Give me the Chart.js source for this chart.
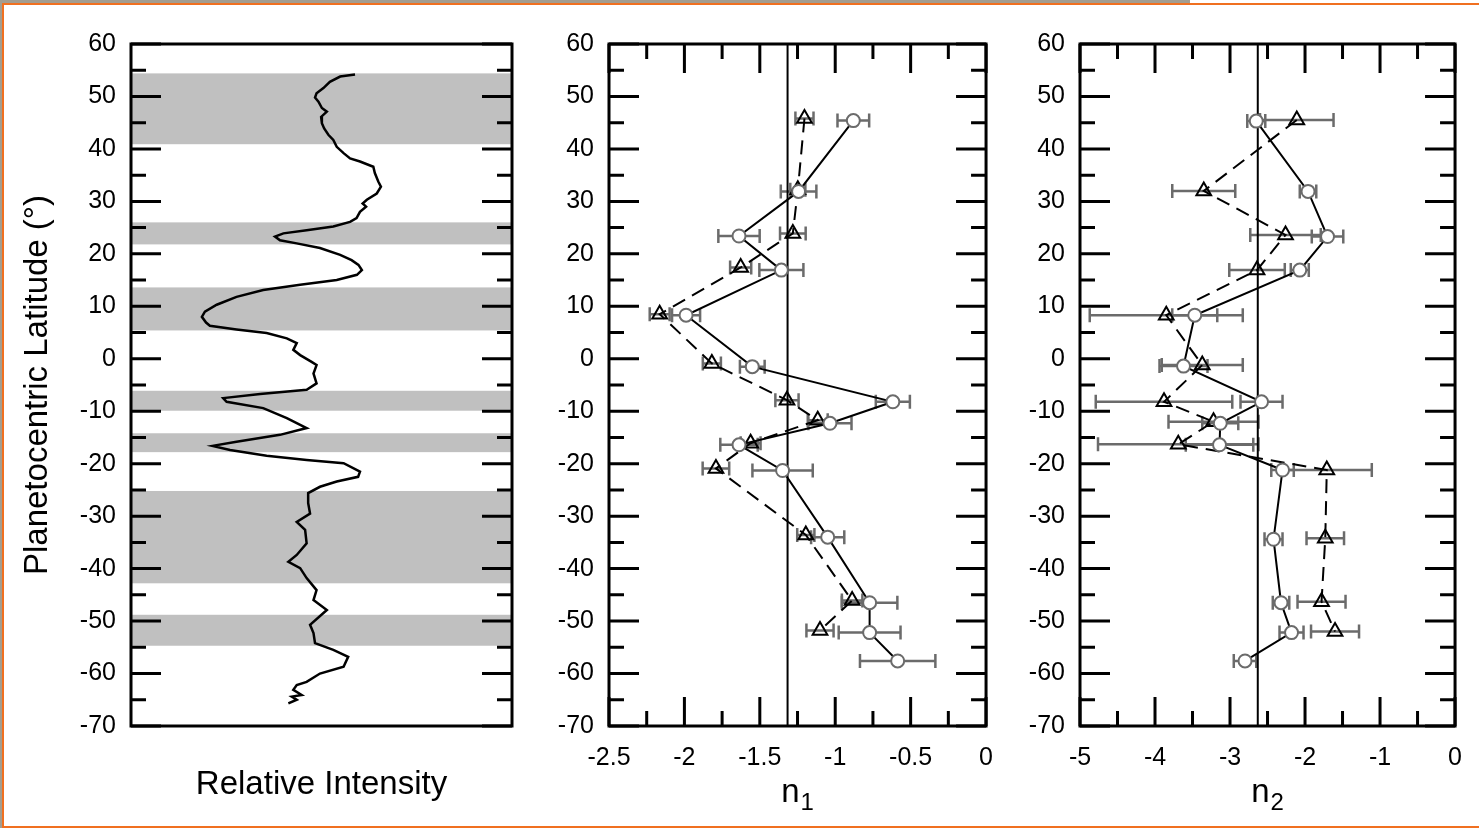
<!DOCTYPE html>
<html>
<head>
<meta charset="utf-8">
<script src="https://cdn.jsdelivr.net/npm/chart.js@4.4.1/dist/chart.umd.min.js"></script>
<style>
  html, body { margin: 0; padding: 0; background: #fff; }
  #page { position: relative; width: 1479px; height: 828px; overflow: hidden; background: #fff; }
  #topbar { position: absolute; left: 0; top: 0; width: 1190px; height: 3px; background: #a39d90; }
  #leftbar { position: absolute; left: 0; top: 0; width: 2px; height: 828px; background: #a39d90; }
  #frame { position: absolute; left: 2px; top: 3px; right: -10px; bottom: 0; border-left: 2px solid #f07020; border-top: 2px solid #f07020; border-bottom: 2px solid #f07020; }
  canvas { position: absolute; top: 0; }
</style>
</head>
<body>
<div id="page">
  <div id="topbar"></div>
  <div id="leftbar"></div>
  <div id="frame"></div>
  <canvas id="c1" width="530" height="828" style="left:0px"></canvas>
  <canvas id="c2" width="480" height="828" style="left:530px"></canvas>
  <canvas id="c3" width="469" height="828" style="left:1010px"></canvas>
</div>
<script>
const FONT = "'Liberation Sans', Arial, sans-serif";

// latitude axis, shared by the three panels
const latMin = -70;
const latMax = 60;

// panel 1: relative intensity profile (arbitrary units, 0-100)
const profileLat = [54.2, 53.8, 52.8, 51.6, 50.6, 49.8, 49.0, 47.8, 47.1, 46.1, 44.9, 43.9, 42.7, 41.7, 40.4,
  39.2, 38.2, 37.6, 36.6, 35.4, 33.8, 32.8, 31.5, 30.3, 29.6, 29.0, 28.0, 26.8, 26.1, 25.2, 24.5, 23.9, 23.3,
  22.6, 22.0, 21.1, 19.8, 18.8, 17.9, 16.9, 16.0, 15.0, 14.1, 13.1, 11.8, 10.3, 9.0, 8.0, 6.9, 6.3, 5.6, 4.9,
  3.9, 3.0, 1.7, 0.7, -0.6, -1.2, -2.8, -4.7, -5.9, -6.7, -7.5, -8.2, -9.4, -11.3, -13.2, -14.5, -15.8, -16.6,
  -17.4, -18.5, -19.3, -19.9, -21.5, -22.5, -23.4, -24.4, -25.6, -27.5, -29.5, -31.1, -32.6, -35.2, -37.4,
  -38.7, -39.9, -41.8, -44.1, -46.0, -47.9, -50.7, -52.3, -54.2, -55.5, -56.8, -58.7, -60.0, -61.6, -62.2,
  -63.1, -64.1, -64.4, -65.0, -65.7];
const profileIntensity = [58.8, 54.9, 52.2, 50.5, 48.7, 48.3, 49.2, 50.1, 51.4, 49.9, 50.1, 50.7, 51.8, 53.1, 54.0,
  55.8, 57.5, 60.1, 63.6, 64.0, 64.9, 65.6, 64.5, 61.9, 60.8, 61.7, 60.1, 59.2, 57.5, 53.1, 46.1, 40.0, 37.8,
  39.1, 43.5, 49.6, 54.9, 57.9, 59.7, 60.6, 59.3, 54.0, 44.4, 34.7, 27.7, 22.5, 19.4, 18.6, 19.7, 20.7, 27.7, 35.6,
  40.9, 43.5, 42.6, 44.4, 47.4, 48.7, 47.9, 48.7, 46.1, 33.9, 24.2, 25.1, 34.7, 40.9, 46.1, 39.1, 27.7, 21.4,
  26.0, 35.6, 46.1, 55.8, 60.1, 59.6, 54.0, 49.6, 46.5, 46.5, 47.0, 43.5, 45.7, 46.1, 43.5,
  41.3, 44.4, 46.1, 48.7, 47.9, 51.4, 47.0, 47.9, 48.3, 53.1, 57.0, 55.8, 49.6, 46.1, 43.5,
  42.6, 44.8, 42.2, 43.5, 41.3];
const bandLow = [40.9, 21.8, 5.4, -9.9, -17.8, -42.8, -54.7];
const bandHigh = [54.4, 26.0, 13.6, -6.1, -14.2, -25.2, -48.8];

// panel 2: n1
const n1CircLat = [45.4, 31.9, 23.4, 16.9, 8.3, -1.5, -8.2, -12.3, -16.4, -21.3, -34.0, -46.5, -52.2, -57.6];
const n1Circ = [-0.88, -1.243, -1.638, -1.357, -1.989, -1.55, -0.618, -1.035, -1.638, -1.349, -1.05, -0.772, -0.772, -0.586];
const n1CircErr = [0.105, 0.118, 0.137, 0.146, 0.093, 0.082, 0.113, 0.143, 0.124, 0.2, 0.11, 0.184, 0.205, 0.25];
const n1TriLat = [45.8, 32.2, 23.9, 17.4, 8.5, -0.9, -7.9, -11.7, -16.1, -20.9, -33.6, -46.1, -51.8];
const n1Tri = [-1.204, -1.248, -1.281, -1.627, -2.164, -1.818, -1.32, -1.116, -1.561, -1.791, -1.195, -0.888, -1.101];
const n1TriErr = [0.06, 0.05, 0.085, 0.07, 0.066, 0.06, 0.077, 0.066, 0.066, 0.088, 0.057, 0.068, 0.09];
const n1Ref = -1.316;
const n1Ticks = { min: -2.5, max: 0, step: 0.5 };

// panel 3: n2
const n2CircLat = [45.3, 31.9, 23.3, 16.9, 8.3, -1.4, -8.2, -12.3, -16.4, -21.2, -34.4, -46.5, -52.2, -57.6];
const n2Circ = [-2.65, -1.96, -1.70, -2.07, -3.47, -3.62, -2.58, -3.13, -3.14, -2.30, -2.42, -2.32, -2.18, -2.80];
const n2CircErr = [0.12, 0.11, 0.21, 0.12, 0.3, 0.32, 0.28, 0.24, 0.45, 0.15, 0.12, 0.11, 0.16, 0.15];
const n2TriLat = [45.5, 32.0, 23.6, 16.9, 8.3, -1.2, -8.2, -12.0, -16.3, -21.2, -34.2, -46.3, -52.0];
const n2Tri = [-2.11, -3.35, -2.26, -2.64, -3.85, -3.37, -3.88, -3.22, -3.69, -1.71, -1.73, -1.78, -1.60];
const n2TriErr = [0.49, 0.42, 0.47, 0.37, 1.02, 0.54, 0.91, 0.6, 1.07, 0.6, 0.25, 0.32, 0.32];
const n2Ref = -2.63;
const n2Ticks = { min: -5, max: 0, step: 1 };

const pts = (xs, ys) => xs.map((x, i) => ({ x, y: ys[i] }));
const fmt = (v) => String(Number(v.toFixed(2)));

// frame, inward ticks, bands, error bars and the n-subscript label
function decor(o) {
  return {
    id: 'decor',
    beforeDatasetsDraw(chart) {
      const { ctx, chartArea: a, scales: { x, y } } = chart;
      ctx.save();
      if (o.bandLow) {
        ctx.fillStyle = '#c0c0c0';
        o.bandLow.forEach((lo, i) => {
          const y1 = y.getPixelForValue(o.bandHigh[i]);
          const y2 = y.getPixelForValue(lo);
          ctx.fillRect(a.left, y1, a.right - a.left, y2 - y1);
        });
      }
      // error bars
      ctx.strokeStyle = '#6b6b6b';
      ctx.lineWidth = 2.5;
      chart.data.datasets.forEach((ds) => {
        if (!ds.errors) return;
        ds.data.forEach((p, j) => {
          const e = ds.errors[j];
          const x1 = x.getPixelForValue(p.x - e);
          const x2 = x.getPixelForValue(p.x + e);
          const py = y.getPixelForValue(p.y);
          ctx.beginPath();
          ctx.moveTo(x1, py); ctx.lineTo(x2, py);
          ctx.moveTo(x1, py - 7); ctx.lineTo(x1, py + 7);
          ctx.moveTo(x2, py - 7); ctx.lineTo(x2, py + 7);
          ctx.stroke();
        });
      });
      ctx.restore();
    },
    afterDraw(chart) {
      const { ctx, chartArea: a, scales: { x, y } } = chart;
      ctx.save();
      ctx.strokeStyle = '#000';
      ctx.lineWidth = 3;
      ctx.beginPath();
      const yv = y.ticks.map(t => t.value);
      yv.forEach((v, i) => {
        const py = y.getPixelForValue(v);
        ctx.moveTo(a.left, py); ctx.lineTo(a.left + 30, py);
        ctx.moveTo(a.right, py); ctx.lineTo(a.right - 30, py);
        if (i < yv.length - 1) {
          const pm = y.getPixelForValue((v + yv[i + 1]) / 2);
          ctx.moveTo(a.left, pm); ctx.lineTo(a.left + 15, pm);
          ctx.moveTo(a.right, pm); ctx.lineTo(a.right - 15, pm);
        }
      });
      if (o.xTicks) {
        const xv = x.ticks.map(t => t.value);
        xv.forEach((v, i) => {
          const px = x.getPixelForValue(v);
          ctx.moveTo(px, a.top); ctx.lineTo(px, a.top + 29);
          ctx.moveTo(px, a.bottom); ctx.lineTo(px, a.bottom - 29);
          if (i < xv.length - 1) {
            const pm = x.getPixelForValue((v + xv[i + 1]) / 2);
            ctx.moveTo(pm, a.top); ctx.lineTo(pm, a.top + 15);
            ctx.moveTo(pm, a.bottom); ctx.lineTo(pm, a.bottom - 15);
          }
        });
      }
      ctx.stroke();
      ctx.strokeRect(a.left, a.top, a.right - a.left, a.bottom - a.top);
      if (o.sub) {
        const cx = (a.left + a.right) / 2;
        ctx.font = '33px ' + FONT;
        const wn = ctx.measureText('n').width;
        ctx.font = '24px ' + FONT;
        const ws = ctx.measureText(o.sub).width;
        const x0 = cx - (wn + ws + 1) / 2;
        ctx.fillStyle = '#000';
        ctx.textAlign = 'left';
        ctx.textBaseline = 'alphabetic';
        ctx.font = '33px ' + FONT;
        ctx.fillText('n', x0, 802);
        ctx.font = '24px ' + FONT;
        ctx.fillText(o.sub, x0 + wn + 1, 810);
      }
      ctx.restore();
    }
  };
}

function yAxis(width, withTitle) {
  return {
    min: latMin, max: latMax,
    ticks: { stepSize: 10, padding: 15, color: '#000', font: { family: FONT, size: 25 }, callback: fmt },
    grid: { display: false, drawTicks: false },
    border: { display: false },
    title: {
      display: withTitle, text: 'Planetocentric Latitude (°)', color: '#000',
      font: { family: FONT, size: 33 }, padding: { top: 18, bottom: 0 }
    },
    afterFit(s) { s.width = width; }
  };
}

function xAxis(t) {
  return {
    min: t.min, max: t.max,
    ticks: { stepSize: t.step, padding: 17, color: '#000', font: { family: FONT, size: 25 }, callback: fmt },
    grid: { display: false, drawTicks: false },
    border: { display: false },
    afterFit(s) { s.height = 102; }
  };
}

const baseOpts = {
  responsive: false,
  animation: false,
  events: [],
  plugins: { legend: { display: false }, tooltip: { enabled: false } }
};

// panel 1
new Chart(document.getElementById('c1'), {
  type: 'scatter',
  data: {
    datasets: [{
      data: pts(profileIntensity, profileLat),
      showLine: true, borderColor: '#000', borderWidth: 2.5, pointRadius: 0, tension: 0
    }]
  },
  options: {
    ...baseOpts,
    layout: { padding: { top: 44, right: 18, bottom: 0, left: 0 } },
    scales: {
      x: {
        min: 0, max: 100,
        ticks: { display: false },
        grid: { display: false, drawTicks: false },
        border: { display: false },
        title: {
          display: true, text: 'Relative Intensity', color: '#000', align: 'center',
          font: { family: FONT, size: 33 }, padding: { top: 0, bottom: 23 }
        },
        afterFit(s) { s.height = 102; }
      },
      y: yAxis(131, true)
    }
  },
  plugins: [decor({ bandLow, bandHigh, xTicks: false })]
});

function nPanel(id, circ, circLat, circErr, tri, triLat, triErr, ref, ticks, yWidth, padRight, sub) {
  new Chart(document.getElementById(id), {
    type: 'scatter',
    data: {
      datasets: [
        {
          data: pts(circ, circLat), errors: circErr,
          showLine: true, borderColor: '#000', borderWidth: 2,
          pointStyle: 'circle', pointRadius: 6.5, pointBorderColor: '#6b6b6b',
          pointBackgroundColor: '#fff', pointBorderWidth: 2
        },
        {
          data: pts(tri, triLat), errors: triErr,
          showLine: true, borderColor: '#000', borderWidth: 2, borderDash: [14, 8],
          pointStyle: 'triangle', pointRadius: 8.5, pointBorderColor: '#000',
          pointBackgroundColor: 'rgba(0,0,0,0)', pointBorderWidth: 2
        },
        {
          data: [{ x: ref, y: latMin }, { x: ref, y: latMax }],
          showLine: true, borderColor: '#000', borderWidth: 2, pointRadius: 0
        }
      ]
    },
    options: {
      ...baseOpts,
      layout: { padding: { top: 44, right: padRight, bottom: 0, left: 0 } },
      scales: { x: xAxis(ticks), y: yAxis(yWidth, false) }
    },
    plugins: [decor({ xTicks: true, sub })]
  });
}

nPanel('c2', n1Circ, n1CircLat, n1CircErr, n1Tri, n1TriLat, n1TriErr, n1Ref, n1Ticks, 79, 20, '1');
nPanel('c3', n2Circ, n2CircLat, n2CircErr, n2Tri, n2TriLat, n2TriErr, n2Ref, n2Ticks, 70, 18, '2');
</script>
</body>
</html>
